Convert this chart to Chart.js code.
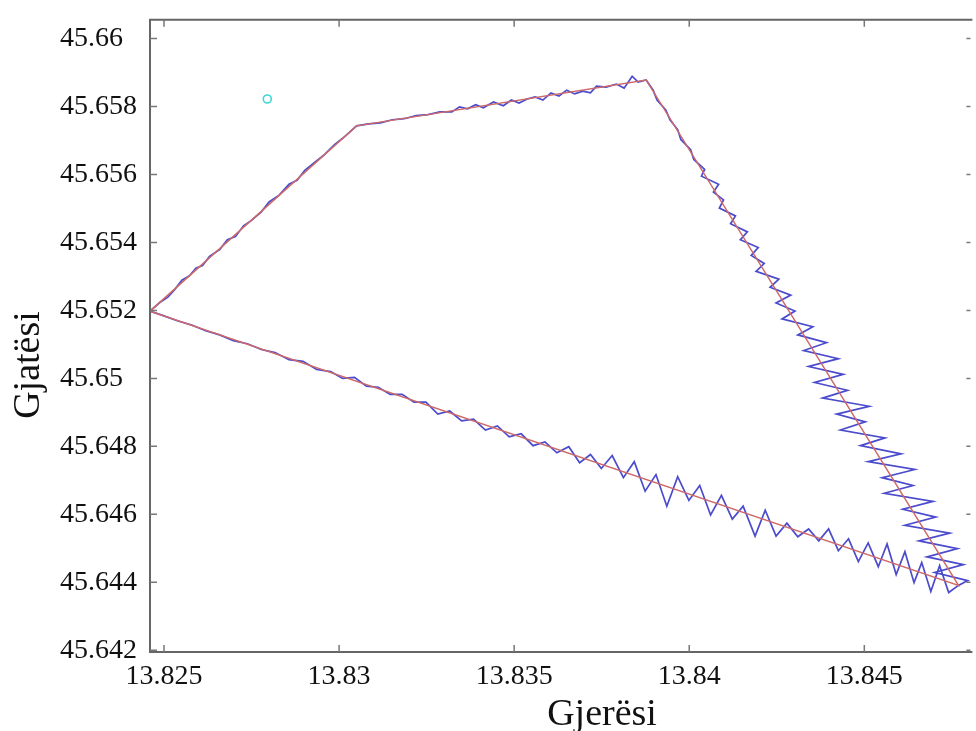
<!DOCTYPE html>
<html>
<head>
<meta charset="utf-8">
<script src="https://cdn.jsdelivr.net/npm/chart.js@4/dist/chart.umd.min.js"></script>
<style>
  body { margin: 0; background: #fff; }
  #wrap { width: 976px; height: 731px; position: relative; }
</style>
</head>
<body>
<div id="wrap"><canvas id="chartJSContainer"></canvas></div>
<script>

// measured GPS track (blue)
var blueLon = [
    13.82460, 13.82489, 13.82511, 13.82531, 13.82551, 13.82574, 13.82591, 13.82610, 13.82630, 13.82659,
    13.82681, 13.82704, 13.82727, 13.82749, 13.82778, 13.82800, 13.82829, 13.82857, 13.82880, 13.82902,
    13.82931, 13.82959, 13.82987, 13.83016,
    13.83050, 13.83084, 13.83118, 13.83152, 13.83186, 13.83220, 13.83254, 13.83288, 13.83322, 13.83344,
    13.83367, 13.83390, 13.83412, 13.83441, 13.83469, 13.83492, 13.83514, 13.83537, 13.83560, 13.83582,
    13.83605, 13.83628, 13.83650, 13.83673, 13.83696, 13.83718, 13.83735, 13.83763, 13.83792, 13.83814,
    13.83837, 13.83854,
    13.83877, 13.83897, 13.83908, 13.83933, 13.83945, 13.83967, 13.83976, 13.84004, 13.84013, 13.84044,
    13.84035, 13.84084, 13.84069, 13.84098, 13.84086, 13.84132, 13.84118, 13.84166, 13.84146, 13.84197,
    13.84177, 13.84214, 13.84191, 13.84256, 13.84231, 13.84290, 13.84248, 13.84302, 13.84265, 13.84353,
    13.84310, 13.84392, 13.84327, 13.84426, 13.84341, 13.84440, 13.84358, 13.84452, 13.84381, 13.84514,
    13.84421, 13.84503, 13.84432, 13.84559, 13.84489, 13.84605, 13.84511, 13.84644, 13.84551, 13.84639,
    13.84557, 13.84696, 13.84610, 13.84704, 13.84616, 13.84744, 13.84656, 13.84766, 13.84679, 13.84783,
    13.84701, 13.84795,
    13.84769, 13.84741, 13.84715, 13.84690, 13.84664, 13.84642, 13.84616, 13.84591, 13.84565, 13.84540,
    13.84511, 13.84483, 13.84455, 13.84426, 13.84398, 13.84370, 13.84341, 13.84310, 13.84279, 13.84248,
    13.84217, 13.84188, 13.84154, 13.84123, 13.84092, 13.84061, 13.84030, 13.83999, 13.83967, 13.83936,
    13.83905, 13.83874, 13.83843, 13.83812, 13.83780, 13.83749, 13.83718, 13.83687, 13.83656, 13.83622,
    13.83588, 13.83554, 13.83520, 13.83486, 13.83452, 13.83418, 13.83384, 13.83350, 13.83316, 13.83282,
    13.83248, 13.83214, 13.83180, 13.83146, 13.83112, 13.83078, 13.83044, 13.83010, 13.82976, 13.82936,
    13.82897, 13.82857, 13.82817, 13.82778, 13.82738, 13.82698, 13.82659, 13.82619, 13.82579, 13.82540,
    13.82500, 13.82460
];
var blueLat = [
    45.65198, 45.65224, 45.65239, 45.65262, 45.65289, 45.65303, 45.65324, 45.65332, 45.65359, 45.65379,
    45.65408, 45.65417, 45.65449, 45.65464, 45.65490, 45.65519, 45.65539, 45.65571, 45.65583, 45.65612,
    45.65636, 45.65659, 45.65688, 45.65711,
    45.65743, 45.65749, 45.65752, 45.65761, 45.65764, 45.65773, 45.65776, 45.65784, 45.65784, 45.65799,
    45.65793, 45.65805, 45.65796, 45.65813, 45.65802, 45.65819, 45.65810, 45.65822, 45.65828, 45.65819,
    45.65840, 45.65831, 45.65848, 45.65837, 45.65845, 45.65840, 45.65860, 45.65857, 45.65866, 45.65854,
    45.65889, 45.65872,
    45.65878, 45.65848, 45.65819, 45.65790, 45.65761, 45.65732, 45.65703, 45.65673, 45.65644, 45.65615,
    45.65595, 45.65571, 45.65548, 45.65525, 45.65501, 45.65478, 45.65455, 45.65431, 45.65408, 45.65385,
    45.65362, 45.65338, 45.65315, 45.65292, 45.65268, 45.65245, 45.65222, 45.65198, 45.65175, 45.65152,
    45.65128, 45.65105, 45.65082, 45.65058, 45.65035, 45.65012, 45.64988, 45.64965, 45.64942, 45.64918,
    45.64895, 45.64872, 45.64848, 45.64825, 45.64802, 45.64778, 45.64755, 45.64732, 45.64708, 45.64685,
    45.64662, 45.64638, 45.64615, 45.64592, 45.64568, 45.64545, 45.64522, 45.64499, 45.64475, 45.64452,
    45.64429, 45.64405,
    45.64391, 45.64370, 45.64449, 45.64373, 45.64458, 45.64399, 45.64490, 45.64423, 45.64513, 45.64446,
    45.64516, 45.64461, 45.64528, 45.64493, 45.64557, 45.64522, 45.64557, 45.64534, 45.64574, 45.64536,
    45.64612, 45.64536, 45.64624, 45.64586, 45.64656, 45.64598, 45.64685, 45.64641, 45.64711, 45.64624,
    45.64717, 45.64668, 45.64755, 45.64708, 45.64773, 45.64735, 45.64776, 45.64752, 45.64799, 45.64781,
    45.64813, 45.64802, 45.64837, 45.64828, 45.64860, 45.64848, 45.64880, 45.64875, 45.64904, 45.64895,
    45.64930, 45.64930, 45.64953, 45.64953, 45.64974, 45.64977, 45.65003, 45.65000, 45.65020, 45.65026,
    45.65050, 45.65055, 45.65076, 45.65085, 45.65102, 45.65111, 45.65128, 45.65140, 45.65157, 45.65169,
    45.65184, 45.65198
];

// reference route (red)
var redLon = [13.82460, 13.83050, 13.83877, 13.84769, 13.82460];
var redLat = [45.65198, 45.65743, 45.65878, 45.64391, 45.65198];

// single marker (cyan)
var markLon = [13.82795];
var markLat = [45.65822];

var xTicks = [13.825, 13.83, 13.835, 13.84, 13.845];
var yTicks = [45.642, 45.644, 45.646, 45.648, 45.65, 45.652, 45.654, 45.656, 45.658, 45.66];

var xTitle = 'Gjerësi';
var yTitle = 'Gjatësi';

function toPoints(lon, lat) {
    var pts = [];
    for (var i = 0; i < lon.length; i++) pts.push({ x: lon[i], y: lat[i] });
    return pts;
}

function fmt(v) {
    return String(+Number(v).toFixed(3));
}

var serif = '"Liberation Serif", "Times New Roman", serif';

// box, inward ticks and axis titles, MATLAB style
var framePlugin = {
    id: 'frame',
    afterDraw: function (chart) {
        var ctx = chart.ctx;
        var a = chart.chartArea;
        var xs = chart.scales.x, ys = chart.scales.y;
        ctx.save();
        ctx.strokeStyle = '#666';
        ctx.lineWidth = 2;
        ctx.beginPath();
        ctx.moveTo(a.right + 2, a.top);
        ctx.lineTo(a.left, a.top);
        ctx.lineTo(a.left, a.bottom);
        ctx.lineTo(a.right + 2, a.bottom);
        ctx.stroke();

        ctx.lineWidth = 1.5;
        ctx.strokeStyle = '#777';
        ctx.beginPath();
        xTicks.forEach(function (v) {
            var px = xs.getPixelForValue(v);
            ctx.moveTo(px, a.bottom); ctx.lineTo(px, a.bottom - 7);
            ctx.moveTo(px, a.top); ctx.lineTo(px, a.top + 7);
        });
        yTicks.forEach(function (v) {
            var py = ys.getPixelForValue(v);
            ctx.moveTo(a.left, py); ctx.lineTo(a.left + 7, py);
            ctx.moveTo(a.right, py); ctx.lineTo(a.right - 4, py);
        });
        ctx.stroke();

        ctx.fillStyle = '#111';
        ctx.font = '38px ' + serif;
        ctx.textAlign = 'center';
        ctx.textBaseline = 'alphabetic';
        ctx.fillText(xTitle, 602, 725);
        ctx.translate(39, 365);
        ctx.rotate(-Math.PI / 2);
        ctx.fillText(yTitle, 0, 0);
        ctx.restore();
    }
};

var options = {
    type: 'scatter',
    data: {
        datasets: [
            {
                label: 'Rruga',
                data: toPoints(redLon, redLat),
                showLine: true,
                borderColor: 'rgb(205, 105, 105)',
                borderWidth: 1.5,
                pointRadius: 0,
                tension: 0,
                order: 0
            },
            {
                label: 'GPS',
                data: toPoints(blueLon, blueLat),
                showLine: true,
                borderColor: 'rgb(75, 75, 205)',
                borderWidth: 1.7,
                pointRadius: 0,
                tension: 0,
                order: 1
            },
            {
                label: 'Start',
                data: toPoints(markLon, markLat),
                showLine: false,
                pointRadius: 4,
                pointBorderWidth: 1.6,
                pointBackgroundColor: 'rgba(0,0,0,0)',
                pointBorderColor: 'rgb(60, 215, 215)',
                order: 2
            }
        ]
    },
    options: {
        responsive: true,
        maintainAspectRatio: false,
        animation: false,
        layout: { padding: { left: 60, top: 14, right: 0, bottom: 0 } },
        plugins: {
            legend: { display: false },
            tooltip: { enabled: false }
        },
        scales: {
            x: {
                type: 'linear',
                min: 13.8246,
                max: 13.84803,
                grid: { display: false, drawTicks: false },
                border: { display: false },
                afterBuildTicks: function (scale) {
                    scale.ticks = xTicks.map(function (v) { return { value: v }; });
                },
                afterFit: function (scale) { scale.height = 79; },
                ticks: {
                    padding: 8,
                    maxRotation: 0,
                    color: '#111',
                    font: { family: serif, size: 28 },
                    callback: function (v) { return fmt(v); }
                }
            },
            y: {
                type: 'linear',
                min: 45.64195,
                max: 45.66055,
                grid: { display: false, drawTicks: false },
                border: { display: false },
                afterBuildTicks: function (scale) {
                    scale.ticks = yTicks.map(function (v) { return { value: v }; });
                },
                afterFit: function (scale) { scale.width = 90; },
                ticks: {
                    crossAlign: 'far',
                    color: '#111',
                    font: { family: serif, size: 28 },
                    callback: function (v) { return fmt(v); }
                }
            }
        }
    },
    plugins: [framePlugin]
};

var ctx = document.getElementById('chartJSContainer').getContext('2d');
new Chart(ctx, options);
</script>
</body>
</html>
